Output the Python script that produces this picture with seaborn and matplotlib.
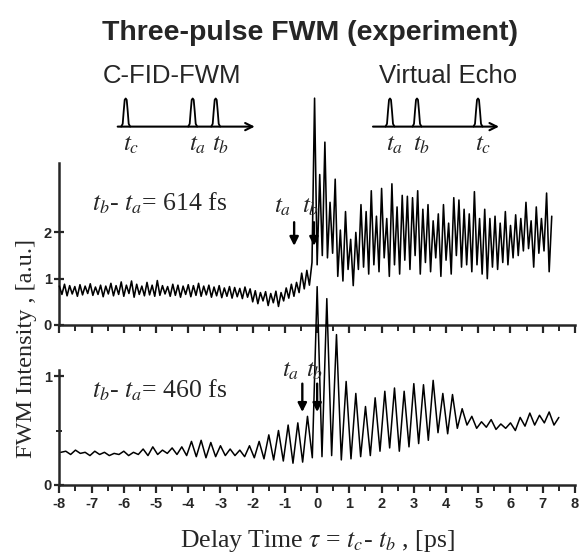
import matplotlib
matplotlib.use("Agg")
import matplotlib.pyplot as plt
import numpy as np
import seaborn as sns

# upper trace (t_b - t_a = 614 fs), one reading every 0.08 ps from -8 ps
top_start, top_step = -8.0, 0.08
top_vals = [
    0.84, 0.66, 0.88, 0.63, 0.85, 0.67, 0.83, 0.62, 0.87, 0.65,
    0.84, 0.68, 0.89, 0.64, 0.82, 0.66, 0.86, 0.61, 0.84, 0.67,
    0.90, 0.63, 0.85, 0.66, 0.93, 0.62, 0.86, 0.68, 0.95, 0.60,
    0.88, 0.66, 0.84, 0.63, 0.92, 0.65, 0.86, 0.62, 0.96, 0.64,
    0.85, 0.67, 0.83, 0.62, 0.88, 0.64, 0.86, 0.60, 0.84, 0.66,
    0.87, 0.61, 0.85, 0.64, 0.90, 0.62, 0.84, 0.65, 0.86, 0.60,
    0.82, 0.63, 0.85, 0.59, 0.80, 0.62, 0.83, 0.58, 0.81, 0.61,
    0.79, 0.57, 0.82, 0.60, 0.78,
    0.50, 0.74, 0.46, 0.70, 0.52, 0.72, 0.42, 0.68, 0.48, 0.73, 0.40, 0.70,
    0.52, 0.80, 0.58, 0.88, 0.62, 0.92, 0.70, 1.12, 0.78, 1.18, 0.86,
    1.35, 4.90, 1.30, 3.25, 1.50, 3.95, 1.45, 2.65, 1.55, 3.15, 1.05, 2.05,
    0.95, 2.45, 1.20, 1.85, 0.85, 2.00, 1.20, 2.60, 1.25, 2.45, 1.10, 2.90,
    1.30, 2.35, 1.15, 2.95, 1.45, 2.30, 1.05, 3.05, 1.30, 2.55,
    1.10, 2.80, 1.40, 2.78, 1.20, 2.75, 1.50, 2.90, 1.10, 2.50,
    1.35, 2.60, 1.15, 2.25, 1.45, 2.40, 1.05, 2.60, 1.40, 2.20,
    1.10, 2.75, 1.50, 2.70, 1.25, 2.50, 1.30, 2.40, 1.15, 2.88,
    1.30, 2.30, 1.10, 2.50, 1.00, 2.30, 1.25, 2.35, 1.20, 2.20,
    1.35, 2.45, 1.30, 2.15, 1.45, 2.38, 1.50, 2.30, 1.60, 2.65,
    1.65, 2.25, 1.25, 2.55, 1.55, 2.30, 1.60, 2.85, 1.15, 2.35,
]

# lower trace (t_b - t_a = 460 fs), one reading every 0.15 ps from -7.95 ps
bot_start, bot_step = -7.95, 0.15
bot_vals = [
    0.30, 0.31, 0.28, 0.32, 0.29, 0.30, 0.27, 0.31, 0.28, 0.30,
    0.27, 0.29, 0.28, 0.31, 0.27, 0.30, 0.28, 0.33,
    0.27, 0.35, 0.28, 0.32, 0.29, 0.34, 0.28, 0.35,
    0.27, 0.40, 0.26, 0.41, 0.25, 0.39, 0.26, 0.36, 0.27, 0.33,
    0.27, 0.32, 0.26, 0.36, 0.25, 0.40, 0.24, 0.46,
    0.23, 0.50, 0.22, 0.55, 0.20, 0.57, 0.21, 0.63, 0.25,
    1.82, 0.26, 1.71, 0.27, 1.38, 0.23, 0.95, 0.24, 0.84, 0.26,
    0.72, 0.27, 0.80, 0.31, 0.86, 0.34, 0.89, 0.31, 0.86, 0.35,
    0.93, 0.38, 0.92, 0.41, 0.96, 0.48, 0.84, 0.47, 0.83, 0.52, 0.70,
    0.55, 0.63, 0.52, 0.58, 0.53, 0.60, 0.51, 0.56, 0.52, 0.57,
    0.50, 0.62, 0.54, 0.66, 0.55, 0.64, 0.57, 0.67, 0.55, 0.62,
]

delays_fs = [614, 460]
tb_marks = [-0.1, 0.0]  # ps, where the t_b arrow sits

x_ticks = list(range(-8, 9))
top_yticks = [0, 1, 2]
bot_yticks = [0, 1]

# pulse-sequence sketches (arbitrary time units)
cfid_pulses = [0.0, 6.7, 9.0]
cfid_names = ["c", "a", "b"]
echo_pulses = [0.0, 2.7, 8.8]
echo_names = ["a", "b", "c"]
pulse_dx = [-0.45, -0.3, -0.2, -0.1, 0.0, 0.1, 0.2, 0.3, 0.45]
pulse_h = [0.0, 0.1, 0.55, 0.95, 1.0, 0.95, 0.55, 0.1, 0.0]

sns.set_style("ticks")
plt.rcParams["font.family"] = ["Liberation Sans", "DejaVu Sans"]
plt.rcParams["mathtext.fontset"] = "stix"
SERIF = "Liberation Serif"

fig = plt.figure(figsize=(5.79, 5.56), dpi=100)
ax_top = fig.add_axes([0.1025, 0.4155, 0.8905, 0.2914])
ax_bot = fig.add_axes([0.1025, 0.1277, 0.8905, 0.2068])

tau_top = top_start + top_step * np.arange(len(top_vals))
tau_bot = bot_start + bot_step * np.arange(len(bot_vals))

sns.lineplot(x=tau_top, y=top_vals, ax=ax_top, color="black", lw=1.15,
             estimator=None, sort=False)
sns.lineplot(x=tau_bot, y=bot_vals, ax=ax_bot, color="black", lw=1.1,
             estimator=None, sort=False)
for ax in (ax_top, ax_bot):
    for ln in ax.lines:
        ln.set_clip_on(False)
        ln.set_zorder(5)

ax_top.set_ylim(0, 3.5)
ax_bot.set_ylim(0, 1.055)
ax_top.set_yticks(top_yticks)
ax_bot.set_yticks(bot_yticks)
ax_bot.set_yticks([0.5], minor=True)

for ax in (ax_top, ax_bot):
    ax.set_xlim(-8, 8)
    ax.set_xticks(x_ticks)
    ax.set_xticks(np.arange(-7.5, 8, 1.0), minor=True)
    sns.despine(ax=ax)
    for sp in ("left", "bottom"):
        ax.spines[sp].set_linewidth(1.8)
    ax.tick_params(axis="x", which="major", direction="out", length=6, width=1.6,
                   labelsize=10.5, pad=3)
    ax.tick_params(axis="x", which="minor", direction="out", length=4, width=1.4)
    ax.tick_params(axis="y", which="major", direction="inout", length=7, width=1.6,
                   labelsize=10.5, pad=2)
    ax.tick_params(axis="y", which="minor", direction="inout", length=5, width=1.4)
    ax.set_xlabel("")
    ax.set_ylabel("")
    for lbl in ax.get_yticklabels():
        lbl.set_fontweight("bold")
ax_top.tick_params(axis="x", labelbottom=False)
ax_bot.set_xticklabels([str(t) for t in x_ticks], fontweight="bold")

# panel texts and t_a / t_b arrows
panel_text = [(ax_top, 2.48, 1.71, 2.22, 2.42), (ax_bot, 0.80, 0.67, 0.93, 0.99)]
for (ax, ty, tip, tail, lab), d, tb in zip(panel_text, delays_fs, tb_marks):
    ax.text(-7.0, ty, rf"$t_b$- $t_a$= {d} fs", family=SERIF, fontsize=18.5,
            va="baseline", ha="left")
    ta = tb - d / 1000.0
    for pos, name, off in ((ta, "a", -0.36), (tb, "b", -0.09)):
        ax.annotate("", xy=(pos, tip), xytext=(pos, tail),
                    arrowprops=dict(arrowstyle="-|>", lw=1.7, color="black",
                                    mutation_scale=13, shrinkA=0, shrinkB=0),
                    zorder=6, annotation_clip=False)
        ax.text(pos + off, lab, rf"$t_{name}$", fontsize=18, ha="center",
                va="baseline", zorder=6)

fig.text(0.045, 0.374, "FWM Intensity , [a.u.]", family=SERIF, fontsize=17.5,
         rotation=90, ha="center", va="center")
fig.text(0.548, 0.017, r"Delay Time $\tau$ = $t_c$- $t_b$ , [ps]", family=SERIF,
         fontsize=18.5, ha="center", va="baseline")

fig.text(0.535, 0.94, "Three-pulse FWM (experiment)", fontsize=20.5,
         fontweight="bold", ha="center", va="center")
fig.text(0.297, 0.863, "C-FID-FWM", fontsize=18.5, ha="center", va="center")
fig.text(0.774, 0.863, "Virtual Echo", fontsize=18.5, ha="center", va="center")

# pulse sketches
for left_px, pulses, names, end in ((113.7, cfid_pulses, cfid_names, 12.9),
                                    (378.0, echo_pulses, echo_names, 10.9)):
    sk = fig.add_axes([left_px / 579, 1 - 130 / 556, 150 / 579, 40 / 556])
    sk.set_xlim(-1.2, 13.8)
    sk.set_ylim(-0.12, 1.3)
    sk.axis("off")
    start = -0.8 if end > 12 else -1.7
    sk.annotate("", xy=(end, 0), xytext=(start, 0),
                arrowprops=dict(arrowstyle="->", lw=1.5, color="black",
                                mutation_scale=13, shrinkA=0, shrinkB=0))
    for p, n in zip(pulses, names):
        sk.plot([p + dx for dx in pulse_dx], pulse_h, color="black", lw=1.3)
        sk.text(p + 0.5, -0.2, rf"$t_{n}$", fontsize=18, ha="center", va="top",
                clip_on=False)

fig.savefig("out.png", dpi=100)
